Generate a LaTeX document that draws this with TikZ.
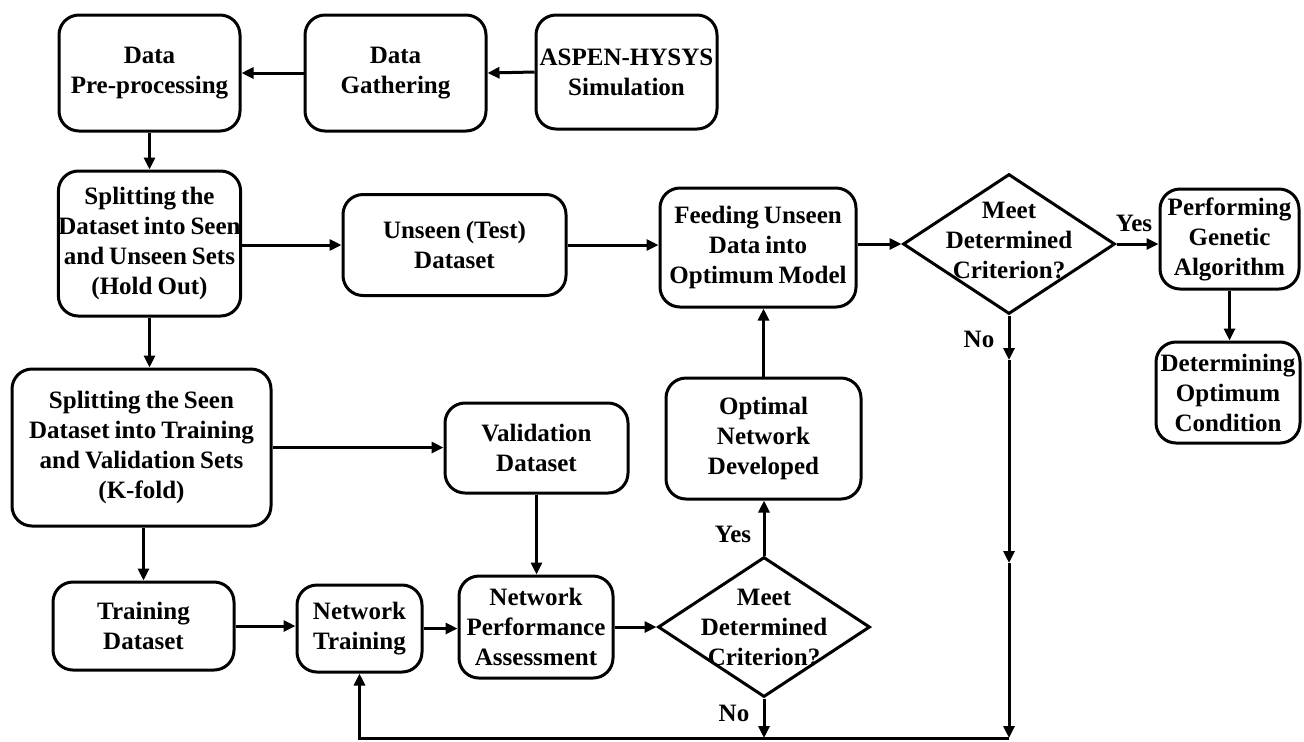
\documentclass[tikz,border=0pt]{standalone}
\usepackage{fontspec}
\setmainfont{Liberation Serif}
\usetikzlibrary{shapes.geometric,arrows.meta}
\newcommand\flowfont{\bfseries\fontsize{12.5}{15}\selectfont\spaceskip=0.2em plus 0.1em\relax}
\tikzset{
  lbl/.style={font=\flowfont, align=center, inner sep=0pt},
  box/.style={lbl, draw, line width=1.5pt, rounded corners=10pt},
  decision/.style={draw, line width=1.5pt, shape=diamond, inner sep=0pt,
    minimum width=106pt, minimum height=70pt},
  arr/.style={line width=1.5pt, -{Triangle[length=6pt,width=5.5pt]}}
}
\begin{document}
\begin{tikzpicture}[x=0.5pt,y=-0.5pt]
\useasboundingbox (0,0) rectangle (1304,741);

% top row
\node[box, minimum width=90.5pt, minimum height=58pt] (pre) at (149.5,73) {Data\\Pre-processing};
\node[box, minimum width=90.5pt, minimum height=58pt] (gather) at (395.5,73) {Data\\Gathering};
\node[box, minimum width=90.5pt, minimum height=57pt] (aspen) at (626.5,72) {ASPEN-HYSYS\\Simulation};

% hold-out split and test branch
\node[box, minimum width=90.5pt, minimum height=72.5pt] (split1) at (149.5,243.5) {Splitting the\\Dataset into Seen\\and Unseen Sets\\(Hold Out)};
\node[box, minimum width=111.5pt, minimum height=50.5pt] (unseen) at (454.5,245) {Unseen (Test)\\Dataset};
\node[box, minimum width=98pt, minimum height=59.5pt] (feed) at (758,247.5) {Feeding Unseen\\Data into\\Optimum Model};
\node[decision] (dia1) at (1009,244) {};
\node[lbl] (dia1t) at (1009,240) {Meet\\Determined\\Criterion?};
\node[box, minimum width=69.5pt, minimum height=50pt] (perf) at (1229.5,239) {Performing\\Genetic\\Algorithm};
\node[box, minimum width=72pt, minimum height=50.5pt] (determ) at (1228,392.5) {Determining\\Optimum\\Condition};
\node[box, minimum width=97.5pt, minimum height=60.5pt] (optimal) at (763.5,438.5) {Optimal\\Network\\Developed};

% k-fold split and training loop
\node[box, minimum width=129.5pt, minimum height=78.5pt] (split2) at (141.5,447.5) {Splitting the Seen\\Dataset into Training\\and Validation Sets\\(K-fold)};
\node[box, minimum width=91.5pt, minimum height=45pt] (valid) at (536.5,448) {Validation\\Dataset};
\node[box, minimum width=90.5pt, minimum height=44pt] (train) at (143.5,626) {Training\\Dataset};
\node[box, minimum width=62.5pt, minimum height=43.5pt] (nettrain) at (359.5,628.5) {Network\\Training};
\node[box, minimum width=77pt, minimum height=51pt] (netperf) at (536,627) {Network\\Performance\\Assessment};
\node[decision] (dia2) at (764,627) {};
\node[lbl] (dia2t) at (764,627) {Meet\\Determined\\Criterion?};

% branch labels
\node[lbl] (yes1) at (1134,223) {Yes};
\node[lbl] (no1) at (979,339) {No};
\node[lbl] (yes2) at (733,534) {Yes};
\node[lbl] (no2) at (734,713) {No};

% feedback path points
\coordinate (m1) at (1009,360);
\coordinate (m2) at (1009,563);
\coordinate (corner) at (1009,738);

% connectors
\draw[arr] (aspen.west) -- (gather.east);
\draw[arr] (gather.west) -- (pre.east);
\draw[arr] (pre.south) -- (pre.south |- split1.north);
\draw[arr] (split1.east |- unseen.west) -- (unseen.west);
\draw[arr] (unseen.east) -- (unseen.east -| feed.west);
\draw[arr] (dia1.west -| feed.east) -- (dia1.west);
\draw[arr] (dia1.east) -- (dia1.east -| perf.west);
\draw[arr] (perf.south) -- (perf.south |- determ.north);
\draw[arr] (dia1.south) -- (m1);
\draw[arr] (m1) -- (m2);
\draw[arr] (m2) -- (corner);
\draw[arr] (corner) -- (corner -| nettrain.south) -- (nettrain.south);
\draw[arr] (dia2.south) -- (dia2.south |- corner);
\draw[arr] (dia2.north) -- (dia2.north |- optimal.south);
\draw[arr] (optimal.north) -- (optimal.north |- feed.south);
\draw[arr] (split1.south) -- (split1.south |- split2.north);
\draw[arr] (split2.east) -- (split2.east -| valid.west);
\draw[arr] (valid.south) -- (valid.south |- netperf.north);
\draw[arr] (train.north |- split2.south) -- (train.north);
\draw[arr] (train.east) -- (train.east -| nettrain.west);
\draw[arr] (nettrain.east) -- (nettrain.east -| netperf.west);
\draw[arr] (netperf.east) -- (dia2.west);
\end{tikzpicture}
\end{document}
